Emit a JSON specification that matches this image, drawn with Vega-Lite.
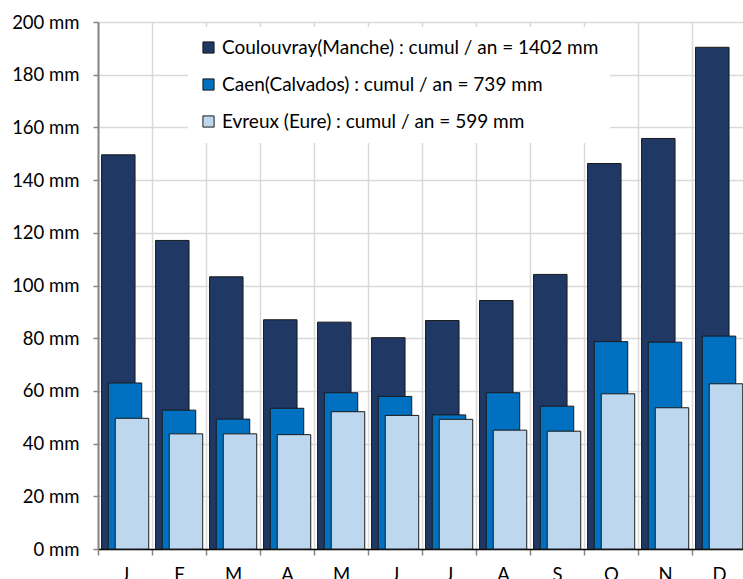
{
  "$schema": "https://vega.github.io/schema/vega-lite/v6.json",
  "width": 648,
  "height": 527,
  "autosize": {"type": "none"},
  "padding": {"left": 98, "top": 22, "right": 0, "bottom": 30},
  "background": "white",
  "config": {
    "view": {"stroke": null},
    "font": "Lato",
    "axis": {"labelFont": "Lato", "labelFontSize": 18.5, "labelColor": "#000000", "gridColor": "#d9d9d9", "gridWidth": 1.5}
  },
  "data": {
    "values": [
      {"mois": "janvier", "station": "Coulouvray(Manche) : cumul / an = 1402 mm", "pluie": 149.6},
      {"mois": "février", "station": "Coulouvray(Manche) : cumul / an = 1402 mm", "pluie": 117.1},
      {"mois": "mars", "station": "Coulouvray(Manche) : cumul / an = 1402 mm", "pluie": 103.3},
      {"mois": "avril", "station": "Coulouvray(Manche) : cumul / an = 1402 mm", "pluie": 87.0},
      {"mois": "mai", "station": "Coulouvray(Manche) : cumul / an = 1402 mm", "pluie": 86.1},
      {"mois": "juin", "station": "Coulouvray(Manche) : cumul / an = 1402 mm", "pluie": 80.2},
      {"mois": "juillet", "station": "Coulouvray(Manche) : cumul / an = 1402 mm", "pluie": 86.7},
      {"mois": "août", "station": "Coulouvray(Manche) : cumul / an = 1402 mm", "pluie": 94.3},
      {"mois": "septembre", "station": "Coulouvray(Manche) : cumul / an = 1402 mm", "pluie": 104.2},
      {"mois": "octobre", "station": "Coulouvray(Manche) : cumul / an = 1402 mm", "pluie": 146.3},
      {"mois": "novembre", "station": "Coulouvray(Manche) : cumul / an = 1402 mm", "pluie": 155.8},
      {"mois": "décembre", "station": "Coulouvray(Manche) : cumul / an = 1402 mm", "pluie": 190.4},
      {"mois": "janvier", "station": "Caen(Calvados) : cumul / an = 739 mm", "pluie": 63.0},
      {"mois": "février", "station": "Caen(Calvados) : cumul / an = 739 mm", "pluie": 52.7},
      {"mois": "mars", "station": "Caen(Calvados) : cumul / an = 739 mm", "pluie": 49.3},
      {"mois": "avril", "station": "Caen(Calvados) : cumul / an = 739 mm", "pluie": 53.4},
      {"mois": "mai", "station": "Caen(Calvados) : cumul / an = 739 mm", "pluie": 59.3},
      {"mois": "juin", "station": "Caen(Calvados) : cumul / an = 739 mm", "pluie": 57.9},
      {"mois": "juillet", "station": "Caen(Calvados) : cumul / an = 739 mm", "pluie": 50.9},
      {"mois": "août", "station": "Caen(Calvados) : cumul / an = 739 mm", "pluie": 59.3},
      {"mois": "septembre", "station": "Caen(Calvados) : cumul / an = 739 mm", "pluie": 54.2},
      {"mois": "octobre", "station": "Caen(Calvados) : cumul / an = 739 mm", "pluie": 78.7},
      {"mois": "novembre", "station": "Caen(Calvados) : cumul / an = 739 mm", "pluie": 78.5},
      {"mois": "décembre", "station": "Caen(Calvados) : cumul / an = 739 mm", "pluie": 80.8},
      {"mois": "janvier", "station": "Evreux (Eure) : cumul / an = 599 mm", "pluie": 49.6},
      {"mois": "février", "station": "Evreux (Eure) : cumul / an = 599 mm", "pluie": 43.7},
      {"mois": "mars", "station": "Evreux (Eure) : cumul / an = 599 mm", "pluie": 43.7},
      {"mois": "avril", "station": "Evreux (Eure) : cumul / an = 599 mm", "pluie": 43.4},
      {"mois": "mai", "station": "Evreux (Eure) : cumul / an = 599 mm", "pluie": 52.1},
      {"mois": "juin", "station": "Evreux (Eure) : cumul / an = 599 mm", "pluie": 50.7},
      {"mois": "juillet", "station": "Evreux (Eure) : cumul / an = 599 mm", "pluie": 49.2},
      {"mois": "août", "station": "Evreux (Eure) : cumul / an = 599 mm", "pluie": 45.1},
      {"mois": "septembre", "station": "Evreux (Eure) : cumul / an = 599 mm", "pluie": 44.7},
      {"mois": "octobre", "station": "Evreux (Eure) : cumul / an = 599 mm", "pluie": 58.9},
      {"mois": "novembre", "station": "Evreux (Eure) : cumul / an = 599 mm", "pluie": 53.6},
      {"mois": "décembre", "station": "Evreux (Eure) : cumul / an = 599 mm", "pluie": 62.7}
    ]
  },
  "encoding": {
    "x": {
      "field": "mois", "type": "nominal",
      "sort": ["janvier","février","mars","avril","mai","juin","juillet","août","septembre","octobre","novembre","décembre"],
      "scale": {"paddingInner": 0, "paddingOuter": 0},
      "axis": {
        "title": null, "labelAngle": 0, "tickBand": "extent", "grid": true,
        "labelExpr": "upper(slice(datum.label, 0, 1))",
        "domainColor": "#000000", "domainWidth": 1.5,
        "tickColor": "#868686", "tickWidth": 1.5, "tickSize": 6,
        "labelPadding": 10
      }
    },
    "y": {
      "field": "pluie", "type": "quantitative",
      "scale": {"domain": [0, 200], "nice": false},
      "axis": {
        "title": null, "values": [0,20,40,60,80,100,120,140,160,180,200],
        "labelExpr": "datum.value + ' mm'",
        "domainColor": "#868686", "domainWidth": 2,
        "tickColor": "#868686", "tickWidth": 1.5, "tickSize": 5,
        "labelPadding": 14
      }
    },
    "color": {
      "field": "station", "type": "nominal",
      "scale": {
        "domain": ["Coulouvray(Manche) : cumul / an = 1402 mm", "Caen(Calvados) : cumul / an = 739 mm", "Evreux (Eure) : cumul / an = 599 mm"],
        "range": ["#1F3864", "#0070C0", "#BDD7EE"]
      },
      "legend": {
        "title": null, "orient": "none", "legendX": 90, "legendY": 5,
        "fillColor": "white", "padding": 11,
        "symbolType": "square", "symbolSize": 125, "symbolStrokeColor": "#1a1a1a", "symbolStrokeWidth": 1,
        "labelFont": "Lato", "labelFontSize": 19, "labelColor": "#000000",
        "rowPadding": 17, "labelLimit": 600, "labelOffset": 4
      }
    }
  },
  "layer": [
    {
      "transform": [{"filter": "datum.station == 'Coulouvray(Manche) : cumul / an = 1402 mm'"}],
      "mark": {"type": "bar", "width": {"band": 0.62}, "xOffset": -6.7, "stroke": "#1a1a1a", "strokeWidth": 1}
    },
    {
      "transform": [{"filter": "datum.station == 'Caen(Calvados) : cumul / an = 739 mm'"}],
      "mark": {"type": "bar", "width": {"band": 0.62}, "xOffset": 0, "stroke": "#1a1a1a", "strokeWidth": 1}
    },
    {
      "transform": [{"filter": "datum.station == 'Evreux (Eure) : cumul / an = 599 mm'"}],
      "mark": {"type": "bar", "width": {"band": 0.62}, "xOffset": 7, "stroke": "#1a1a1a", "strokeWidth": 1}
    }
  ]
}
